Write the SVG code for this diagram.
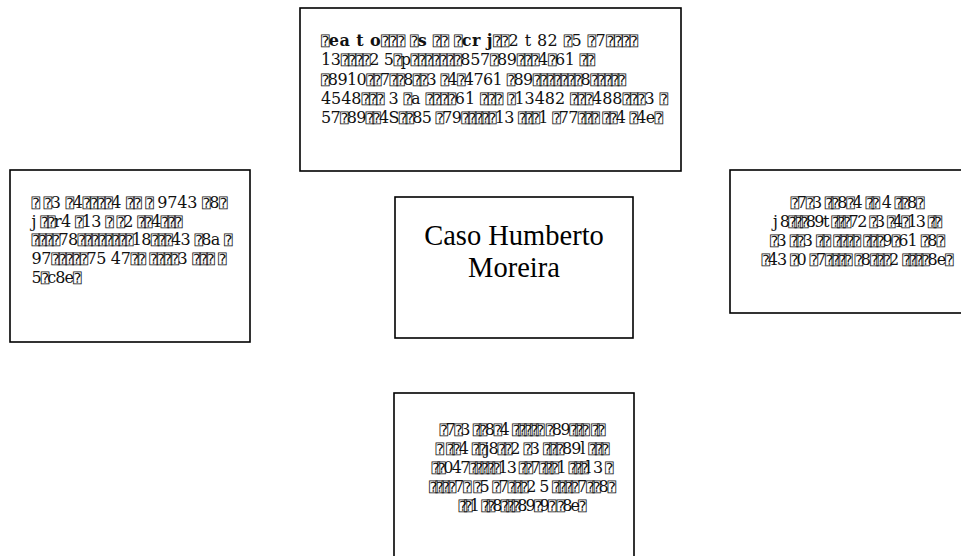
<svg xmlns="http://www.w3.org/2000/svg" width="961" height="556" viewBox="0 0 961 556">
<style>
.box{fill:#fff;stroke:#000;stroke-width:1.6}
.t{font-family:"DejaVu Serif","Liberation Serif","DejaVu Sans Mono",serif;font-size:16px;fill:#111}
.q{font-size:14px;letter-spacing:-1px}
.c{text-anchor:middle}
.b{font-weight:bold}
.title{font-family:"Liberation Serif","Times New Roman",serif;font-size:28.5px;fill:#000;text-anchor:middle}
</style>
<rect width="961" height="556" fill="#fff"/>
<g id="connectors"/>
<g id="node-top">
<rect class="box" x="300" y="8" width="381" height="163"/>
<text class="t" x="321" y="46" textLength="316" lengthAdjust="spacing"><tspan class="q">⍰</tspan><tspan class="b">ea t o</tspan><tspan class="q">⍰⍰⍰</tspan> <tspan class="q">⍰</tspan><tspan class="b">s</tspan> <tspan class="q">⍰⍰</tspan> <tspan class="q">⍰</tspan><tspan class="b">cr j</tspan><tspan class="q">⍰⍰</tspan>2 t 82 <tspan class="q">⍰</tspan>5 <tspan class="q">⍰</tspan>7<tspan class="q">⍰⍰⍰⍰</tspan></text>
<text class="t" x="321" y="65.3" textLength="273" lengthAdjust="spacing">13<tspan class="q">⍰⍰⍰⍰</tspan>2 5<tspan class="q">⍰</tspan>p<tspan class="q">⍰⍰⍰⍰⍰⍰</tspan><tspan class="q">⍰</tspan>857<tspan class="q">⍰</tspan>89<tspan class="q">⍰⍰⍰</tspan>4<tspan class="q">⍰</tspan>61 <tspan class="q">⍰⍰</tspan></text>
<text class="t" x="321" y="84.6" textLength="304" lengthAdjust="spacing"><tspan class="q">⍰</tspan>8910<tspan class="q">⍰⍰</tspan>7<tspan class="q">⍰⍰</tspan>8<tspan class="q">⍰⍰</tspan>3 <tspan class="q">⍰</tspan>4<tspan class="q">⍰</tspan>4761 <tspan class="q">⍰</tspan>89<tspan class="q">⍰⍰⍰⍰⍰⍰</tspan><tspan class="q">⍰</tspan>8<tspan class="q">⍰⍰⍰⍰⍰</tspan></text>
<text class="t" x="321" y="103.9" textLength="346" lengthAdjust="spacing">4548<tspan class="q">⍰⍰⍰</tspan> 3 <tspan class="q">⍰</tspan>a <tspan class="q">⍰⍰⍰⍰</tspan>61 <tspan class="q">⍰⍰⍰</tspan> <tspan class="q">⍰</tspan>13482 <tspan class="q">⍰⍰⍰</tspan>488<tspan class="q">⍰⍰⍰</tspan>3 <tspan class="q">⍰</tspan></text>
<text class="t" x="321" y="123.2" textLength="341" lengthAdjust="spacing">57<tspan class="q">⍰</tspan>89<tspan class="q">⍰⍰</tspan>4S<tspan class="q">⍰⍰</tspan>85 <tspan class="q">⍰</tspan>79<tspan class="q">⍰⍰⍰⍰⍰</tspan>13 <tspan class="q">⍰⍰⍰</tspan>1 <tspan class="q">⍰</tspan>77<tspan class="q">⍰⍰⍰</tspan> <tspan class="q">⍰⍰</tspan>4 <tspan class="q">⍰</tspan>4e<tspan class="q">⍰</tspan></text>
</g>
<g id="node-left">
<rect class="box" x="10" y="170" width="240" height="172"/>
<text class="t" x="31.5" y="208" textLength="195" lengthAdjust="spacing"><tspan class="q">⍰</tspan> <tspan class="q">⍰</tspan>3 <tspan class="q">⍰</tspan>4<tspan class="q">⍰⍰⍰⍰</tspan>4 <tspan class="q">⍰⍰</tspan> <tspan class="q">⍰</tspan> 9743 <tspan class="q">⍰</tspan>8<tspan class="q">⍰</tspan></text>
<text class="t" x="31.5" y="226.7" textLength="150" lengthAdjust="spacing">j <tspan class="q">⍰⍰</tspan>r4 <tspan class="q">⍰</tspan>13 <tspan class="q">⍰</tspan> <tspan class="q">⍰</tspan>2 <tspan class="q">⍰⍰</tspan>4<tspan class="q">⍰⍰⍰</tspan></text>
<text class="t" x="31.5" y="245.4" textLength="200" lengthAdjust="spacing"><tspan class="q">⍰⍰⍰⍰</tspan>78<tspan class="q">⍰⍰⍰⍰⍰⍰⍰⍰</tspan>18<tspan class="q">⍰⍰⍰</tspan>43 <tspan class="q">⍰</tspan>8a <tspan class="q">⍰</tspan></text>
<text class="t" x="31.5" y="264.1" textLength="194" lengthAdjust="spacing">97<tspan class="q">⍰⍰⍰⍰⍰</tspan>75 47<tspan class="q">⍰⍰</tspan> <tspan class="q">⍰⍰⍰⍰</tspan>3 <tspan class="q">⍰⍰⍰</tspan> <tspan class="q">⍰</tspan></text>
<text class="t" x="31.5" y="282.8" textLength="49" lengthAdjust="spacing">5<tspan class="q">⍰</tspan>c8e<tspan class="q">⍰</tspan></text>
</g>
<g id="node-center">
<rect class="box" x="395" y="197" width="238" height="141"/>
<text class="title" x="514" y="245">Caso Humberto</text>
<text class="title" x="514" y="277">Moreira</text>
</g>
<g id="node-right">
<rect class="box" x="730" y="170" width="240" height="143"/>
<text class="t c" x="857" y="208" textLength="133" lengthAdjust="spacing"><tspan class="q">⍰</tspan>7<tspan class="q">⍰</tspan>3 <tspan class="q">⍰⍰</tspan>8<tspan class="q">⍰</tspan>4 <tspan class="q">⍰⍰</tspan> 4 <tspan class="q">⍰⍰</tspan>8<tspan class="q">⍰</tspan></text>
<text class="t c" x="857" y="227" textLength="168" lengthAdjust="spacing">j 8<tspan class="q">⍰⍰⍰</tspan>89t <tspan class="q">⍰⍰⍰</tspan>72 <tspan class="q">⍰</tspan>3 <tspan class="q">⍰</tspan>4<tspan class="q">⍰</tspan>13 <tspan class="q">⍰⍰</tspan></text>
<text class="t c" x="857" y="246" textLength="174" lengthAdjust="spacing"><tspan class="q">⍰</tspan>3 <tspan class="q">⍰⍰</tspan>3 <tspan class="q">⍰⍰</tspan> <tspan class="q">⍰⍰⍰⍰</tspan> <tspan class="q">⍰⍰⍰</tspan>9<tspan class="q">⍰</tspan>61 <tspan class="q">⍰</tspan>8<tspan class="q">⍰</tspan></text>
<text class="t c" x="857" y="265" textLength="191" lengthAdjust="spacing"><tspan class="q">⍰</tspan>43 <tspan class="q">⍰</tspan>0 <tspan class="q">⍰</tspan>7<tspan class="q">⍰⍰⍰⍰</tspan> <tspan class="q">⍰</tspan>8<tspan class="q">⍰⍰⍰</tspan>2 <tspan class="q">⍰⍰⍰⍰</tspan>8e<tspan class="q">⍰</tspan></text>
</g>
<g id="node-bottom">
<rect class="box" x="394" y="393" width="240" height="175"/>
<text class="t c" x="522" y="435" textLength="165" lengthAdjust="spacing"><tspan class="q">⍰</tspan>7<tspan class="q">⍰</tspan>3 <tspan class="q">⍰⍰</tspan>8<tspan class="q">⍰</tspan>4 <tspan class="q">⍰⍰⍰⍰⍰</tspan> <tspan class="q">⍰</tspan>89<tspan class="q">⍰⍰⍰</tspan> <tspan class="q">⍰⍰</tspan></text>
<text class="t c" x="522" y="454" textLength="173" lengthAdjust="spacing"><tspan class="q">⍰</tspan> <tspan class="q">⍰⍰</tspan>4 <tspan class="q">⍰⍰</tspan>j8<tspan class="q">⍰⍰</tspan>2 <tspan class="q">⍰</tspan>3 <tspan class="q">⍰⍰⍰</tspan>89l <tspan class="q">⍰⍰⍰</tspan></text>
<text class="t c" x="522" y="473" textLength="181" lengthAdjust="spacing"><tspan class="q">⍰⍰</tspan>047<tspan class="q">⍰⍰⍰⍰⍰</tspan>13 <tspan class="q">⍰⍰</tspan>7<tspan class="q">⍰⍰⍰</tspan>1 <tspan class="q">⍰⍰⍰</tspan>l 3 <tspan class="q">⍰</tspan></text>
<text class="t c" x="522" y="492" textLength="186" lengthAdjust="spacing"><tspan class="q">⍰⍰⍰⍰</tspan>7<tspan class="q">⍰</tspan> <tspan class="q">⍰</tspan>5 <tspan class="q">⍰</tspan>7<tspan class="q">⍰⍰⍰</tspan>2 5 <tspan class="q">⍰⍰⍰⍰</tspan>7<tspan class="q">⍰⍰</tspan>8<tspan class="q">⍰</tspan></text>
<text class="t c" x="522" y="511" textLength="127" lengthAdjust="spacing"><tspan class="q">⍰⍰</tspan>1 <tspan class="q">⍰⍰</tspan>8<tspan class="q">⍰⍰⍰</tspan>89<tspan class="q">⍰</tspan>9<tspan class="q">⍰</tspan> <tspan class="q">⍰</tspan>8e<tspan class="q">⍰</tspan></text>
</g>
</svg>
